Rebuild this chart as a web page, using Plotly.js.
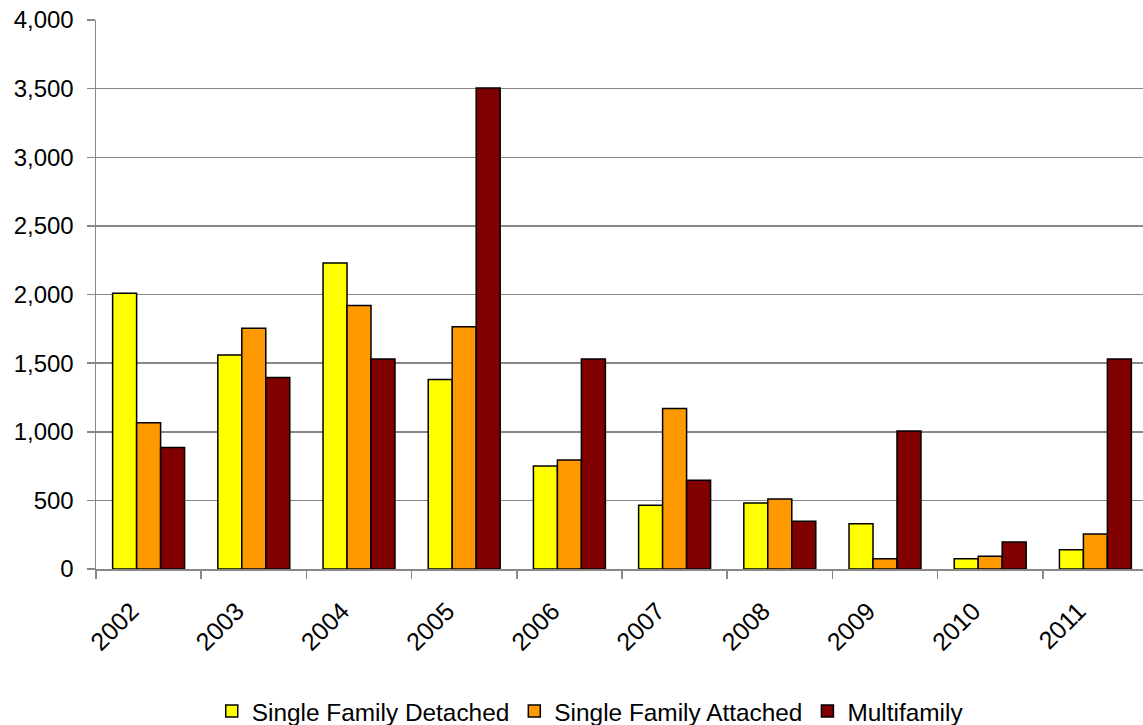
<!DOCTYPE html>
<html>
<head>
<meta charset="utf-8">
<script src="https://cdn.plot.ly/plotly-3.0.1.min.js"></script>
<style>
  html, body { margin: 0; padding: 0; overflow: hidden; background: #fff; }
  #chart { width: 1150px; height: 725px; }
</style>
</head>
<body>
<div id="chart"></div>
<script>
// Housing units by type, 2002-2011
const years = ["2002", "2003", "2004", "2005", "2006", "2007", "2008", "2009", "2010", "2011"];
const singleDetached = [2010, 1560, 2230, 1380, 750, 465, 480, 330, 75, 140];
const singleAttached = [1065, 1755, 1920, 1765, 795, 1170, 510, 75, 92, 255];
const multifamily = [885, 1395, 1530, 3505, 1530, 647, 348, 1005, 197, 1530];

const seriesNames = ["Single Family Detached", "Single Family Attached", "Multifamily"];
const seriesColors = ["#FFFF00", "#FF9900", "#800000"];
const seriesValues = [singleDetached, singleAttached, multifamily];

const traces = seriesValues.map((vals, i) => ({
  type: "bar",
  name: seriesNames[i],
  x: years,
  y: vals,
  marker: { color: seriesColors[i], line: { color: "#000", width: 1.5 } },
  hoverinfo: "x+y+name"
}));

const font = { family: "Liberation Sans, Arial, sans-serif", size: 24, color: "#000" };

const layout = {
  width: 1150,
  height: 725,
  margin: { l: 96, r: 2, t: 20, b: 156, autoexpand: false },
  paper_bgcolor: "#fff",
  plot_bgcolor: "#fff",
  font: font,
  barmode: "group",
  bargap: 0.316,
  bargroupgap: 0,
  showlegend: true,
  legend: {
    orientation: "h",
    x: 0.11,
    xanchor: "left",
    y: -0.259,
    yanchor: "middle",
    font: { family: font.family, size: 24.4, color: "#000" },
    itemwidth: 30,
    traceorder: "normal"
  },
  xaxis: {
    type: "category",
    showline: true,
    linecolor: "#888",
    linewidth: 1.5,
    ticks: "outside",
    tickson: "boundaries",
    ticklen: 8,
    tickcolor: "#888",
    tickwidth: 1.5,
    tickangle: -45,
    showgrid: false,
    automargin: false,
    ticklabelstandoff: 16,
    ticklabelshift: -17,
    tickfont: { family: font.family, size: 25, color: "#000" }
  },
  yaxis: {
    range: [0, 4000],
    dtick: 500,
    tickformat: ",",
    showline: true,
    linecolor: "#888",
    linewidth: 1.5,
    ticks: "outside",
    ticklen: 8,
    tickcolor: "#888",
    tickwidth: 1.5,
    gridcolor: "#888",
    gridwidth: 1.5,
    zeroline: false,
    automargin: false,
    ticklabelstandoff: 8,
    tickfont: { family: font.family, size: 24, color: "#000" }
  }
};

Plotly.newPlot("chart", traces, layout, { displayModeBar: false, staticPlot: true });
</script>
</body>
</html>
